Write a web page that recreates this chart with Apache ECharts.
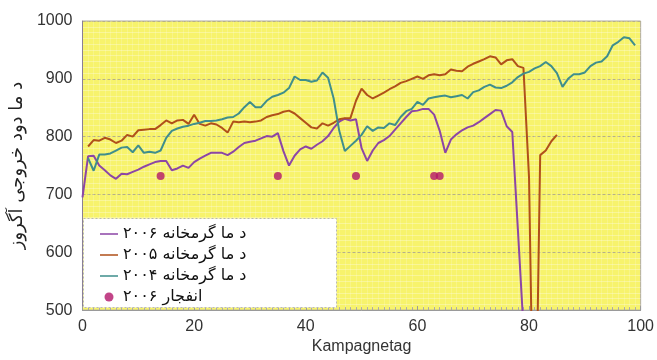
<!DOCTYPE html>
<html>
<head>
<meta charset="utf-8">
<script src="https://cdn.jsdelivr.net/npm/echarts@6/dist/echarts.min.js"></script>
<style>html,body{margin:0;padding:0;background:#fff;}#c{width:657px;height:360px;}</style>
</head>
<body>
<div id="c"></div>
<script>
const days = [0,1,2,3,4,5,6,7,8,9,10,11,12,13,14,15,16,17,18,19,20,21,22,23,24,25,26,27,28,29,30,31,32,33,34,35,36,37,38,39,40,41,42,43,44,45,46,47,48,49,50,51,52,53,54,55,56,57,58,59,60,61,62,63,64,65,66,67,68,69,70,71,72,73,74,75,76,77,78,79,80,81,82,83,84,85,86,87,88,89,90,91,92,93,94,95,96,97,98,99];

const name2006 = 'د ما گرمخانه ۲۰۰۶';
const name2005 = 'د ما گرمخانه ۲۰۰۵';
const name2004 = 'د ما گرمخانه ۲۰۰۴';
const nameExpl = 'انفجار ۲۰۰۶';
const yTitle = 'د ما دود خروجی آگروز';
const xTitle = 'Kampagnetag';

const temp2006 = [695,766,767,750,742,733,727,736,735,739,743,748,752,756,758,758,742,745,750,746,756,762,767,772,772,772,768,774,782,789,791,793,797,801,800,806,775,750,767,778,783,779,786,792,801,815,826,831,828,830,780,758,776,789,794,801,812,823,834,844,845,848,848,838,810,772,795,804,811,816,819,825,832,839,846,845,818,808,640,470];

const temp2005 = [null,783,794,793,798,795,789,793,803,800,811,812,813,813,820,828,823,828,829,822,838,822,819,823,821,815,807,826,825,826,825,826,828,834,837,839,843,845,840,832,824,816,814,823,819,824,830,832,832,862,883,872,866,871,876,882,887,893,896,900,904,900,906,908,906,908,916,914,913,921,926,930,934,939,937,925,932,934,922,919,730,150,768,776,792,803];

const temp2004 = [null,763,741,769,769,771,776,781,782,773,785,772,774,772,776,798,810,814,817,819,822,824,827,827,828,830,833,834,840,851,860,851,851,862,869,872,876,884,904,898,898,895,897,911,902,866,810,775,784,793,803,818,810,816,815,823,820,834,844,848,860,855,866,868,870,871,868,870,872,866,877,880,886,890,885,884,888,894,903,909,912,918,922,929,922,910,886,900,908,908,911,922,928,930,939,958,964,972,970,958];

const explDays = [14,35,49,63,64];
const explVals = [732,732,732,732,732];

const yTicks = [500,600,700,800,900,1000];
const xTicks = [0,20,40,60,80,100];

function pairs(vals){ return vals.map((v,i)=>[days[i], v]); }

const lineIcon = 'path://M0,0h20v0.02H0zM0,3.6h20v1.8H0zM0,9h20v0.02H0z';

const chart = echarts.init(document.getElementById('c'), null, {renderer:'canvas'});
const font = '"Liberation Sans", Arial, sans-serif';
chart.setOption({
  animation:false,
  backgroundColor:'#ffffff',
  grid:{left:78,right:16,top:21,bottom:45,show:true,backgroundColor:'#f7f36c',borderColor:'#b0aca0',borderWidth:1},
  xAxis:{
    type:'value', min:xTicks[0], max:xTicks[xTicks.length-1], interval:20,
    name:xTitle, nameLocation:'middle', nameGap:27,
    nameTextStyle:{fontFamily:font,fontSize:16,color:'#333'},
    axisLine:{show:true,lineStyle:{color:'#9a9a9a',width:1}},
    axisTick:{show:true,inside:true,length:4,lineStyle:{color:'#9a9a9a'}},
    minorTick:{show:true,splitNumber:20,length:3,lineStyle:{color:'#aaa'}},
    axisLabel:{fontFamily:font,fontSize:16,color:'#333',margin:8},
    splitLine:{show:false},
    minorSplitLine:{show:true,lineStyle:{color:'rgba(255,255,255,0.18)',width:1}}
  },
  yAxis:{
    type:'value', min:yTicks[0], max:yTicks[yTicks.length-1], interval:100,
    name:yTitle, nameLocation:'middle', nameGap:50,
    nameTextStyle:{fontFamily:'"DejaVu Sans", sans-serif',fontSize:18,color:'#222'},
    axisLine:{show:true,lineStyle:{color:'#8a7f95',width:1}},
    axisTick:{show:false},
    axisLabel:{fontFamily:font,fontSize:16,color:'#333',margin:10,formatter:(v)=>String(v)},
    splitLine:{show:true,lineStyle:{color:'#b5b08a',type:[3,2],width:1}},
    minorTick:{show:false,splitNumber:10},
    minorSplitLine:{show:true,lineStyle:{color:'rgba(255,255,255,0.3)',width:1}}
  },
  graphic:[{type:'rect',left:83,top:218,z:5,shape:{width:253,height:89},
    style:{fill:'#ffffff',stroke:'#b8b8b8',lineWidth:1,lineDash:[2,2]}}],
  legend:{
    orient:'vertical', left:95, top:221, z:10, itemGap:5,
    itemWidth:18, itemHeight:9,
    textStyle:{fontFamily:'"DejaVu Sans", sans-serif',fontSize:16,color:'#111'},
    data:[{name:name2006,icon:lineIcon},{name:name2005,icon:lineIcon},{name:name2004,icon:lineIcon},{name:nameExpl,icon:'circle'}]
  },
  series:[
    {name:name2006,type:'line',data:pairs(temp2006),symbol:'none',lineStyle:{color:'#8c46a6',width:2},itemStyle:{color:'#8c46a6'},z:3},
    {name:name2005,type:'line',data:pairs(temp2005),symbol:'none',lineStyle:{color:'#b0501a',width:2},itemStyle:{color:'#b0501a'},z:3},
    {name:name2004,type:'line',data:pairs(temp2004),symbol:'none',lineStyle:{color:'#3f8e8c',width:2},itemStyle:{color:'#3f8e8c'},z:3},
    {name:nameExpl,type:'scatter',data:explDays.map((d,i)=>[d,explVals[i]]),symbol:'circle',symbolSize:8,itemStyle:{color:'#b3166a'},z:4}
  ]
});
</script>
</body>
</html>
